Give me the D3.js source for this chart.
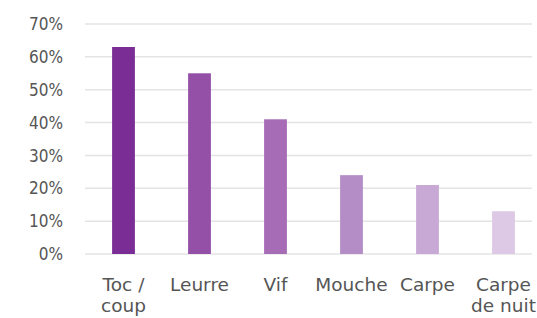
<!DOCTYPE html>
<html><head><meta charset="utf-8">
<script src="https://cdn.jsdelivr.net/npm/d3@7"></script>
<style>
html,body{margin:0;padding:0;background:#fff;}
svg{display:block;}
</style>
</head><body>
<svg id="c" width="537" height="318"></svg>
<script>
const categories = [["Toc /","coup"],["Leurre"],["Vif"],["Mouche"],["Carpe"],["Carpe","de nuit"]];
const values = [63, 55, 41, 24, 21, 13];
const barColors = ["#7a2d94","#9450a7","#a66cb6","#b58dc6","#c8a9d6","#ddc9e5"];
const yTicks = [0,10,20,30,40,50,60,70];

const svg = d3.select("#c");
const names = categories.map(c => c.join(" "));
const x = d3.scaleBand().domain(names).range([85.5, 541.5]).paddingInner(0.7).paddingOuter(0.35);
const y = d3.scaleLinear().domain([0,70]).range([254,24]);

svg.append("g").selectAll("line").data(yTicks).join("line")
  .attr("x1",85).attr("x2",532)
  .attr("y1",d=>y(d)).attr("y2",d=>y(d))
  .attr("stroke","#e4e4e4").attr("stroke-width",1.5);

svg.append("g").selectAll("text").data(yTicks).join("text")
  .attr("x",63).attr("y",d=>y(d)).attr("dy","0.36em")
  .attr("text-anchor","end")
  .style("font-family","'DejaVu Sans Condensed','DejaVu Sans',sans-serif")
  .style("font-stretch","condensed")
  .style("font-size","17px").attr("fill","#555")
  .text(d=>d+"%");

svg.append("g").selectAll("rect").data(values).join("rect")
  .attr("x",(d,i)=>x(names[i])).attr("width",x.bandwidth())
  .attr("y",d=>y(d)).attr("height",d=>y(0)-y(d))
  .attr("fill",(d,i)=>barColors[i]);

const lab = svg.append("g").selectAll("text").data(categories).join("text")
  .attr("x",(d,i)=>x(names[i])+x.bandwidth()/2).attr("y",291)
  .attr("text-anchor","middle")
  .style("font-family","'DejaVu Sans',sans-serif")
  .style("font-size","18.5px").attr("fill","#555");
lab.selectAll("tspan").data(d=>d).join("tspan")
  .attr("x",function(){return this.parentNode.getAttribute("x");})
  .attr("dy",(d,i)=>i?21:0)
  .text(d=>d);
</script>
</body></html>
